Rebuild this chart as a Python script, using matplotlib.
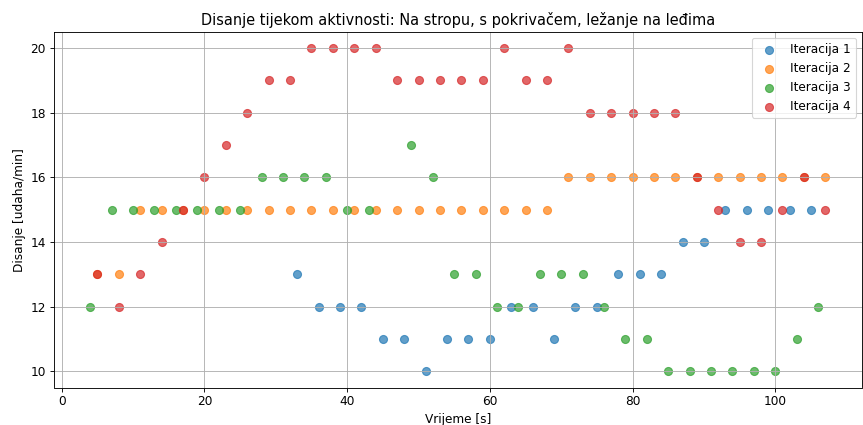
import matplotlib.pyplot as plt

# vrijeme [s] i disanje [udaha/min] po iteracijama
t1 = [33, 36, 39, 42, 45, 48, 51, 54, 57, 60, 63, 66, 69, 72, 75, 78, 81, 84, 87, 90, 93, 96, 99, 102, 105]
d1 = [13, 12, 12, 12, 11, 11, 10, 11, 11, 11, 12, 12, 11, 12, 12, 13, 13, 13, 14, 14, 15, 15, 15, 15, 15]

t2 = list(range(5, 108, 3))
d2 = [13, 13] + [15] * 20 + [16] * 13

t3 = [4, 7, 10, 13, 16, 19, 22, 25, 28, 31, 34, 37, 40, 43,
      49, 52, 55, 58, 61, 64, 67, 70, 73, 76, 79, 82, 85, 88, 91, 94, 97, 100, 103, 106]
d3 = [12, 15, 15, 15, 15, 15, 15, 15, 16, 16, 16, 16, 15, 15,
      17, 16, 13, 13, 12, 12, 13, 13, 13, 12, 11, 11, 10, 10, 10, 10, 10, 10, 11, 12]

t4 = list(range(5, 108, 3))
d4 = [13, 12, 13, 14, 15, 16, 17, 18, 19, 19, 20, 20, 20, 20, 19, 19, 19, 19, 19, 20,
      19, 19, 20, 18, 18, 18, 18, 18, 16, 15, 14, 14, 15, 16, 15]

labels = ['Iteracija 1', 'Iteracija 2', 'Iteracija 3', 'Iteracija 4']

plt.rcParams['font.size'] = 10.9
plt.rcParams['axes.titlesize'] = 13.1

fig = plt.figure(figsize=(863 / 80, 425 / 80), dpi=80)
ax = fig.add_axes([53.5 / 863, 1 - 387.5 / 425, (862 - 53.5) / 863, (387.5 - 32) / 425])

for t, d, lab in zip([t1, t2, t3, t4], [d1, d2, d3, d4], labels):
    ax.scatter(t, d, s=52, alpha=0.7, label=lab)

ax.set_title('Disanje tijekom aktivnosti: Na stropu, s pokrivačem, ležanje na leđima')
ax.set_xlabel('Vrijeme [s]')
ax.set_ylabel('Disanje [udaha/min]')
ax.grid(True)
ax.legend(loc='upper right')

fig.savefig('out.png', dpi=80)
